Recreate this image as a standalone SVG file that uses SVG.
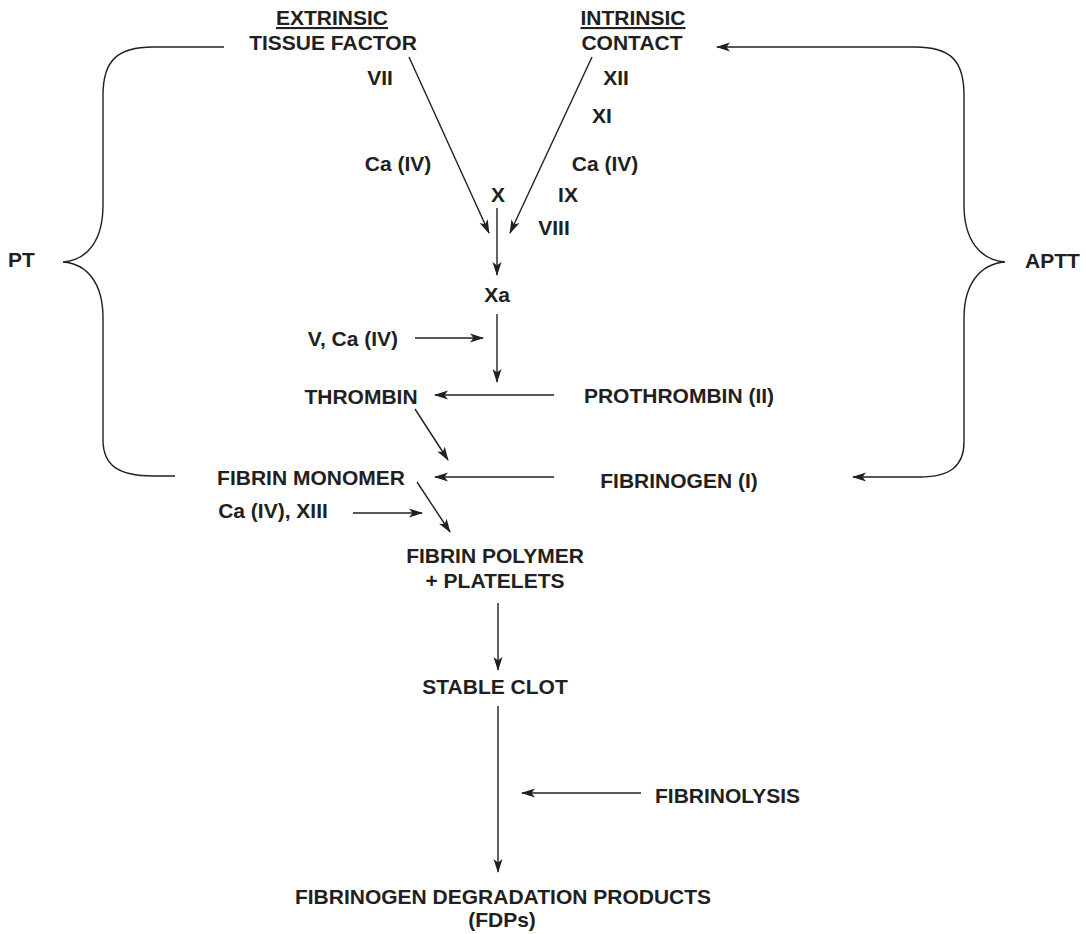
<svg xmlns="http://www.w3.org/2000/svg" width="1086" height="934" viewBox="0 0 1086 934">
<style>
text{font-family:"Liberation Sans",Arial,sans-serif;font-weight:bold;font-size:21px;fill:#231f20}
.c{text-anchor:middle}
.u{text-decoration:underline}
.ln{fill:none;stroke:#231f20;stroke-width:1.4}
</style>
<defs>
<marker id="ah" viewBox="0 0 14 10" refX="13" refY="5" markerWidth="14" markerHeight="10" markerUnits="userSpaceOnUse" orient="auto-start-reverse">
<path d="M0,0.5 L14,5 L0,9.5 L3.5,5 Z" fill="#231f20"/>
</marker>
</defs>
<rect width="1086" height="934" fill="#fff"/>
<g id="connectors">
<line class="ln" x1="409" y1="57" x2="489" y2="233" marker-end="url(#ah)"/>
<line class="ln" x1="592" y1="57" x2="510" y2="233" marker-end="url(#ah)"/>
<line class="ln" x1="497" y1="208" x2="497" y2="275" marker-end="url(#ah)"/>
<line class="ln" x1="497" y1="314" x2="497" y2="382" marker-end="url(#ah)"/>
<line class="ln" x1="415" y1="338" x2="483" y2="338" marker-end="url(#ah)"/>
<line class="ln" x1="554" y1="395" x2="435" y2="395" marker-end="url(#ah)"/>
<line class="ln" x1="415" y1="409" x2="448" y2="460" marker-end="url(#ah)"/>
<line class="ln" x1="554" y1="477" x2="435" y2="477" marker-end="url(#ah)"/>
<line class="ln" x1="417" y1="482" x2="450" y2="532" marker-end="url(#ah)"/>
<line class="ln" x1="353" y1="513" x2="422" y2="513" marker-end="url(#ah)"/>
<line class="ln" x1="498" y1="603" x2="498" y2="670" marker-end="url(#ah)"/>
<line class="ln" x1="498" y1="706" x2="498" y2="872" marker-end="url(#ah)"/>
<line class="ln" x1="641" y1="793" x2="522" y2="793" marker-end="url(#ah)"/>
<path id="pt-brace" class="ln" d="M224,47 L153,47 C118,47 103,60 103,95 L103,205 C103,240 88,260 63,262 C88,264 103,284 103,318 L103,440 C103,465 118,476 153,476 L175,476"/>
<path id="aptt-brace" class="ln" d="M717,47 L915,47 C950,47 964,60 964,95 L964,205 C964,240 980,260 1005,262 C980,264 964,284 964,318 L964,442 C964,466 950,477 920,477 L853,477" marker-start="url(#ah)" marker-end="url(#ah)"/>
</g>
<g id="extrinsic"><text class="c u" x="332" y="25">EXTRINSIC</text><text class="c" x="333" y="50">TISSUE FACTOR</text></g>
<g id="intrinsic"><text class="c u" x="633" y="25">INTRINSIC</text><text class="c" x="632" y="50">CONTACT</text></g>
<g id="vii"><text class="c" x="380" y="85">VII</text></g>
<g id="ca-left"><text class="c" x="398" y="171">Ca (IV)</text></g>
<g id="x"><text class="c" x="498" y="202">X</text></g>
<g id="xii"><text class="c" x="616" y="85">XII</text></g>
<g id="xi"><text class="c" x="602" y="123">XI</text></g>
<g id="ca-right"><text class="c" x="605" y="171">Ca (IV)</text></g>
<g id="ix"><text class="c" x="568" y="202">IX</text></g>
<g id="viii"><text class="c" x="554" y="235">VIII</text></g>
<g id="xa"><text class="c" x="497" y="302">Xa</text></g>
<g id="v-ca"><text class="c" x="353" y="346">V, Ca (IV)</text></g>
<g id="thrombin"><text class="c" x="361" y="404">THROMBIN</text></g>
<g id="prothrombin"><text class="c" x="679" y="403">PROTHROMBIN (II)</text></g>
<g id="fibrin-monomer"><text class="c" x="311" y="485">FIBRIN MONOMER</text></g>
<g id="fibrinogen"><text class="c" x="679" y="488">FIBRINOGEN (I)</text></g>
<g id="ca-xiii"><text class="c" x="273" y="518">Ca (IV), XIII</text></g>
<g id="fibrin-polymer"><text class="c" x="495" y="563">FIBRIN POLYMER</text><text class="c" x="495" y="588">+ PLATELETS</text></g>
<g id="stable-clot"><text class="c" x="495" y="694">STABLE CLOT</text></g>
<g id="fibrinolysis"><text x="655" y="803">FIBRINOLYSIS</text></g>
<g id="fdp"><text class="c" x="503" y="904">FIBRINOGEN DEGRADATION PRODUCTS</text><text class="c" x="502" y="927">(FDPs)</text></g>
<g id="pt"><text x="8" y="267">PT</text></g>
<g id="aptt"><text x="1025" y="268">APTT</text></g>
</svg>
